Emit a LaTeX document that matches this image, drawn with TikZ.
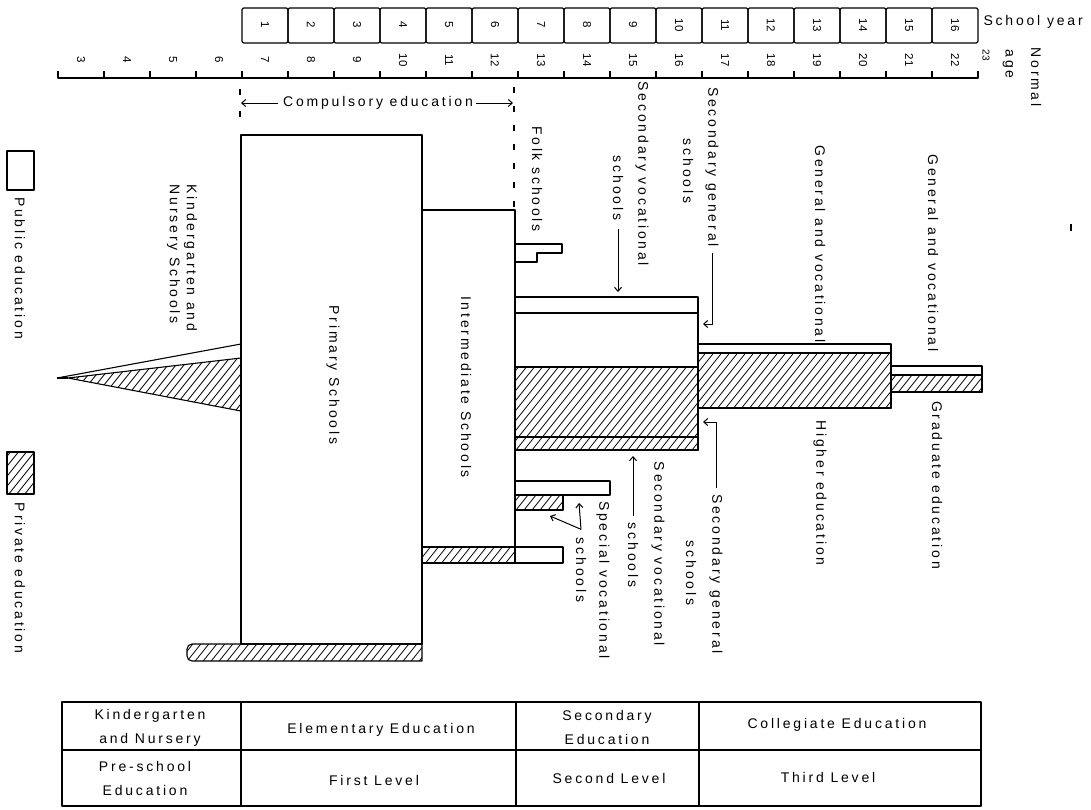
\documentclass[tikz,border=0pt]{standalone}
\usepackage{fontspec}
\usetikzlibrary{arrows.meta}
\newfontfamily\chartfont[LetterSpace=20]{Liberation Sans}
\newfontfamily\digitfont{Liberation Sans}
% private-education hatching: clip to the region, rule slanted lines, then outline it
\newcommand{\hatched}[1]{%
  \begin{scope}
    \clip #1;
    \foreach \s in {-700,-692,...,1100} {\draw[line width=0.8pt] (\s,830) -- ++(672,-840);}
  \end{scope}
  \draw #1;}
\begin{document}
\begin{tikzpicture}[x=1pt,y=-1pt,line width=1.1pt,line join=round,
  lbl/.style={font=\chartfont\fontsize{14}{17}\selectfont,rotate=-90,inner sep=0pt,align=left},
  num/.style={font=\digitfont\fontsize{11.5}{13}\selectfont,rotate=-90,inner sep=0pt},
  tbl/.style={font=\chartfont\fontsize{14}{24}\selectfont,align=center,inner sep=0pt},
  lead/.style={-{Straight Barb[length=4pt,width=7pt]},line width=1pt},
  dashmark/.style={dash pattern=on 6pt off 13pt}]
\fill[white] (0,0) rectangle (1091,809);
\useasboundingbox (0,0) rectangle (1091,809);

% school year boxes
\foreach \i in {1,...,16} {
  \pgfmathsetmacro\bx{242+46*(\i-1)}
  \pgfmathsetmacro\cx{\bx+23}
  \draw[rounded corners=1.5pt] (\bx,8) rectangle ++(46,35);
  \node[num] (yr\i) at (\cx,25) {\i};
}
\node[anchor=west,inner sep=0pt,font=\chartfont\fontsize{14}{16}\selectfont] (sylabel) at (983,22) {School year};

% normal age scale
\draw (58,71) -- (58,78) -- (978,78) -- (978,71);
\foreach \k in {1,...,19} \draw ({58+46*\k},78) -- ++(0,-7);
\foreach \a in {3,...,22} {
  \pgfmathsetmacro\ax{81+46*(\a-3)}
  \node[num] (age\a) at (\ax,60) {\a};
}
\node[num,font=\digitfont\fontsize{10}{11}\selectfont] (age23) at (986,55) {23};
\node[lbl,anchor=west] (normal) at (1036,47) {Normal};
\node[lbl,anchor=west] (agelbl) at (1008,49) {age};

% compulsory education span
\draw[dash pattern=on 6pt off 16pt] (240,89) -- (240,118);
\draw[dashmark] (514,87) -- (514,210);
\node[inner sep=0pt,font=\chartfont\fontsize{14}{16}\selectfont] (comp) at (378,103) {Compulsory education};
\coordinate (compL) at (241,103);
\coordinate (compR) at (513,103);
\draw[lead] ([xshift=-5pt]comp.west) -- (compL);
\draw[lead] ([xshift=3pt]comp.east) -- (compR);

% legend
\draw (7,151) rectangle (34,190);
\hatched{(7,452) rectangle (34,494)}
\node[lbl] (pub) at (20,268) {Public education};
\node[lbl] (priv) at (20,578) {Private education};

% kindergarten and nursery
\draw (57,378) -- (241,344);
\draw (57,378) -- (68,378);
\hatched{(68,378) -- (241,358) -- (241,411) -- cycle}
\node[lbl] (kg) at (182,258) {Kindergarten and\\Nursery Schools};

% primary schools
\draw (241,135) rectangle (422,644);
\hatched{(422,644) [rounded corners=5pt] -- (187,644) -- (187,661) [sharp corners] -- (422,661) -- cycle}
\node[lbl] (prim) at (333,375) {Primary Schools};

% intermediate schools
\draw (422,210) -- (515,210) -- (515,563);
\hatched{(422,547) rectangle (515,563)}
\node[lbl] (inter) at (466,387) {Intermediate Schools};

% folk schools
\draw (515,244) -- (562,244) -- (562,253) -- (537,253) -- (537,262) -- (515,262);
\node[lbl] (folk) at (537,179) {Folk schools};

% secondary schools
\draw (515,297) rectangle (698,450);
\draw (515,313) -- (698,313);
\hatched{(515,367) rectangle (698,437)}
\hatched{(515,437) rectangle (698,450)}

% special vocational schools
\draw (515,481) rectangle (610,495);
\hatched{(515,495) rectangle (563,510)}
\draw (515,547) rectangle (563,563);

% higher and graduate education
\draw (698,344) rectangle (891,408);
\hatched{(698,353) rectangle (891,408)}
\draw (891,366) rectangle (982,392);
\hatched{(891,375) rectangle (982,392)}
\draw (1071,224) -- (1071,231);

% labels above the blocks
\node[lbl] (svoc1) at (642,174) {Secondary vocational};
\node[lbl] (svoc2) at (618,188) {schools};
\node[lbl] (sgen1) at (712,167) {Secondary general};
\node[lbl] (sgen2) at (688,171) {schools};
\node[lbl] (gv1) at (820,244) {General and vocational};
\node[lbl] (gv2) at (933,253) {General and vocational};

% labels below the blocks
\node[lbl] (higher) at (820,493) {Higher education};
\node[lbl] (grad) at (937,485) {Graduate education};
\node[lbl] (lsg1) at (716,574) {Secondary general};
\node[lbl] (lsg2) at (691,573) {schools};
\node[lbl] (lsv1) at (658,554) {Secondary vocational};
\node[lbl] (lsv2) at (633,555) {schools};
\node[lbl] (spv1) at (603,580) {Special vocational};
\node[lbl] (spv2) at (581,570) {schools};

% leaders
\coordinate (svocTip) at (618,292);
\draw[lead] ([yshift=-8pt]svoc2.east) -- (svocTip);
\coordinate (sgenTip) at (703,324);
\draw[lead] ([yshift=-6pt]sgen1.east) |- (sgenTip);
\coordinate (lsgTip) at (703,422);
\draw[lead] ([yshift=6pt]lsg1.west) |- (lsgTip);
\coordinate (lsvTip) at (633,456);
\draw[lead] ([yshift=6pt]lsv2.west) -- (lsvTip);
\coordinate (spvV) at ([yshift=8pt]spv2.west);
\coordinate (spvA) at (579,503);
\coordinate (spvB) at (550,516);
\draw[lead] (spvV) -- (spvA);
\draw[lead] (spvV) -- (spvB);

% levels table
\draw (62,702) rectangle (981,806);
\draw (62,750) -- (981,750);
\foreach \vx in {241,516,699} \draw (\vx,702) -- (\vx,806);
\node[tbl] (t11) at (150,728) {Kindergarten\\and Nursery};
\node[tbl] (t12) at (381,730) {Elementary Education};
\node[tbl] (t13) at (607,727) {Secondary\\Education};
\node[tbl] (t14) at (837,725) {Collegiate Education};
\node[tbl] (t21) at (145,778) {Pre-school\\Education};
\node[tbl] (t22) at (374,780) {First Level};
\node[tbl] (t23) at (609,778) {Second Level};
\node[tbl] (t24) at (828,777) {Third Level};
\end{tikzpicture}
\end{document}
